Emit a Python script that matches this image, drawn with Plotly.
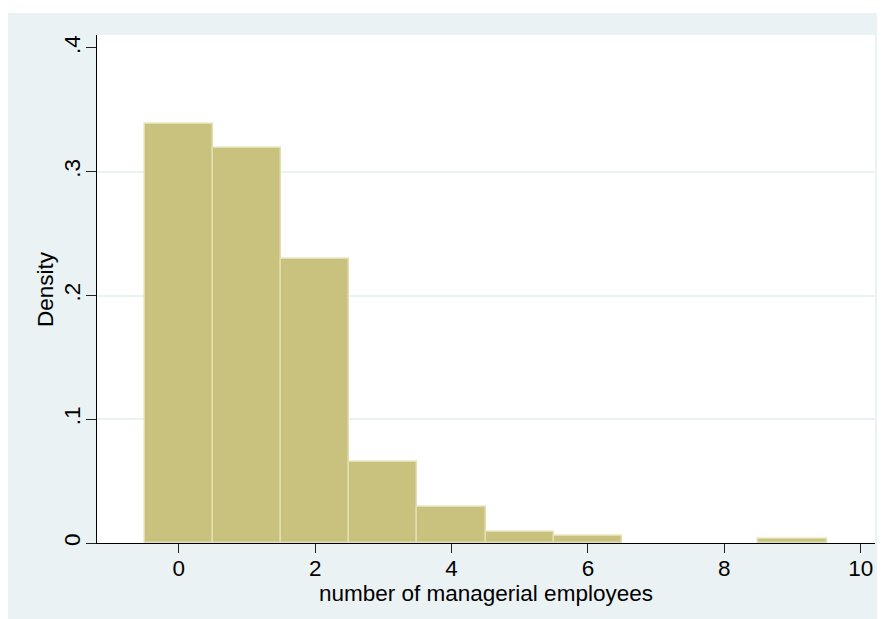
import plotly.graph_objects as go

# Data
bin_centers = [0, 1, 2, 3, 4, 5, 6, 7, 8, 9]
density = [0.3383, 0.3190, 0.2295, 0.0657, 0.0293, 0.0086, 0.0059, 0.0, 0.0, 0.0030]

y_ticks = [0, 0.1, 0.2, 0.3, 0.4]
y_tick_labels = ["0", ".1", ".2", ".3", ".4"]
y_grid = [0.1, 0.2, 0.3]
x_ticks = [0, 2, 4, 6, 8, 10]
x_title = "number of managerial employees"
y_title = "Density"

BG = "#EAF2F3"
BAR = "#C9C27E"
BAR_LINE = "#E2DEB0"
FONT = "Liberation Sans, Arial, sans-serif"
FS = 22.5

# empty bins are not drawn (avoid an outline on zero-height bars)
bar_heights = [v if v > 0 else None for v in density]

fig = go.Figure()
fig.add_trace(go.Bar(
    x=bin_centers, y=bar_heights, width=1,
    marker=dict(color=BAR, line=dict(color=BAR_LINE, width=1.5)),
    showlegend=False,
))
# invisible helper trace so the grid-only overlay axis is rendered
fig.add_trace(go.Scatter(x=[], y=[], yaxis="y2", showlegend=False, hoverinfo="skip"))

# page body has an 8px margin, so the figure is 8px smaller than the window
W, H = 877, 611
L, R, T, B = 89, 10, 27, 76
pw, ph = W - L - R, H - T - B

fig.update_layout(
    width=W, height=H,
    margin=dict(l=L, r=R, t=T, b=B, pad=0),
    paper_bgcolor="white",
    plot_bgcolor="white",
    font=dict(family=FONT, size=FS, color="#000000"),
    bargap=0,
    xaxis=dict(
        range=[-1.2, 10.21], tickvals=x_ticks, ticktext=[str(v) for v in x_ticks],
        showgrid=False, zeroline=False,
        showline=True, linecolor="#000000", linewidth=1.3,
        ticks="outside", ticklen=9, tickwidth=1.2, tickcolor="#222222",
        tickfont=dict(size=FS), ticklabelstandoff=-4,
        automargin=False,
    ),
    yaxis=dict(
        range=[0, 0.4105], tickvals=y_ticks, ticktext=y_tick_labels,
        showgrid=False, zeroline=False,
        showline=True, linecolor="#000000", linewidth=1.3,
        ticks="outside", ticklen=10, tickwidth=1.2, tickcolor="#222222",
        tickangle=-90, tickfont=dict(size=FS), ticklabelstandoff=-3,
        automargin=False,
    ),
    yaxis2=dict(
        overlaying="y", range=[0, 0.4105], tickvals=y_grid,
        showgrid=True, gridcolor=BG, gridwidth=2,
        showticklabels=False, ticks="", zeroline=False, showline=False,
    ),
    annotations=[
        dict(text=x_title, xref="paper", yref="paper", x=0.5, y=(T + ph - 585) / ph,
             xanchor="center", yanchor="middle", showarrow=False, font=dict(size=FS)),
        dict(text=y_title, xref="paper", yref="paper", x=(37 - L) / pw, y=0.5,
             xanchor="center", yanchor="middle", textangle=-90, showarrow=False,
             font=dict(size=FS)),
    ],
    shapes=[
        dict(type="rect", xref="paper", yref="paper", layer="below",
             x0=(0 - L) / pw, x1=(W - L) / pw,
             y0=(T + ph - H) / ph, y1=(T + ph - 5) / ph,
             fillcolor=BG, line=dict(width=0)),
        dict(type="rect", xref="paper", yref="paper", layer="below",
             x0=0, x1=1, y0=0, y1=1,
             fillcolor="white", line=dict(width=0)),
    ],
)

fig.write_html("out.html")
